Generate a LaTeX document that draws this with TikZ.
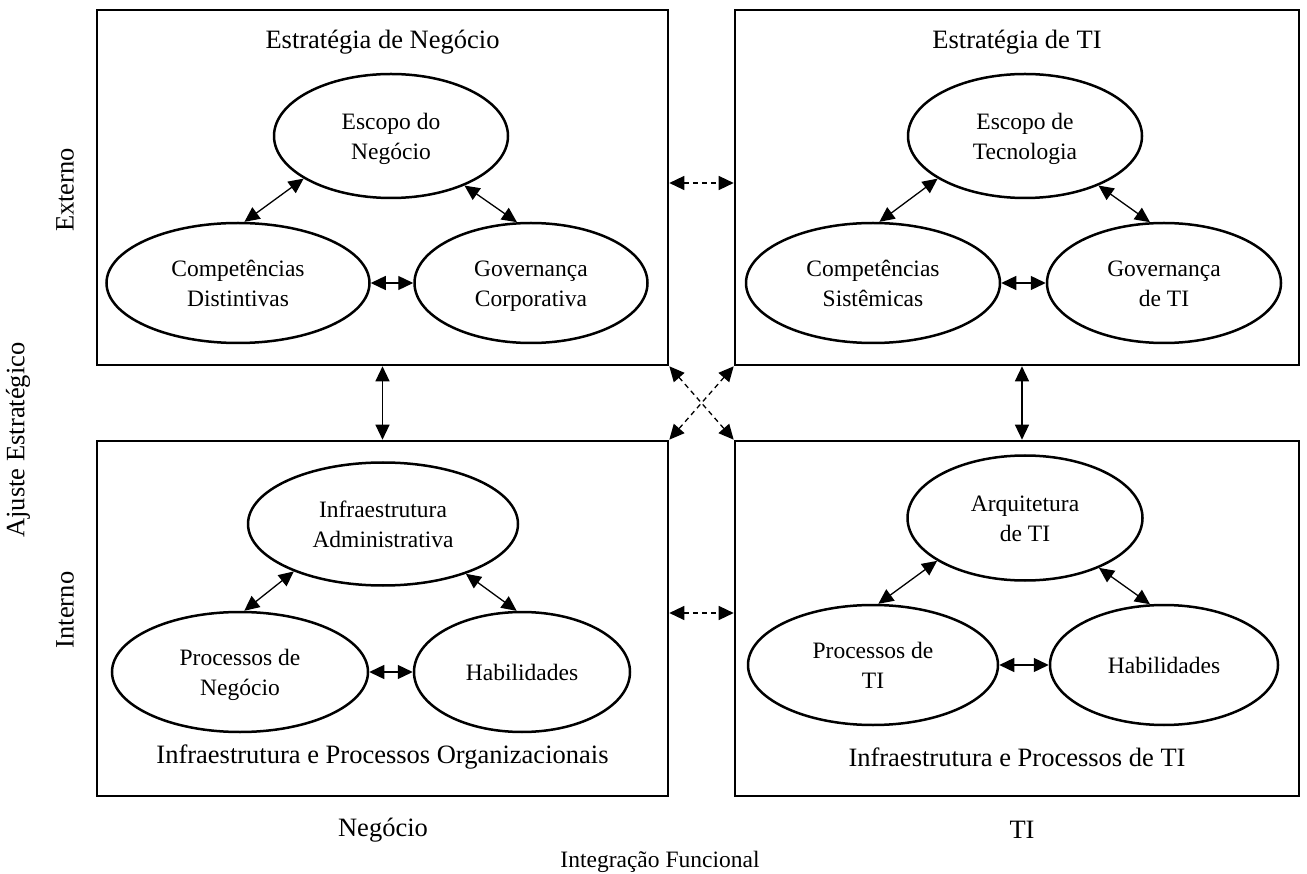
\documentclass[tikz,border=0pt]{standalone}
\usepackage{fontspec}
\setmainfont{Liberation Serif}
\usetikzlibrary{arrows.meta,shapes.geometric}
\begin{document}
\begin{tikzpicture}[x=1pt,y=-1pt,
  font=\fontsize{23.5}{30}\selectfont,
  panel/.style={draw, rectangle, line width=2.6pt, inner sep=0pt},
  oval/.style={draw, ellipse, line width=2.5pt, inner sep=0pt, align=center},
  twoline/.style={oval, text height=47pt, text depth=0pt},
  heading/.style={font=\fontsize{26.5}{32}\selectfont},
  link/.style={line width=1.3pt,
    {Triangle[length=15pt,width=14pt]}-{Triangle[length=15pt,width=14pt]}},
  crosslink/.style={link, dash pattern=on 5pt off 4pt},
]
\useasboundingbox (0,0) rectangle (1307,874);

% four quadrant panels
\node[panel, minimum width=571pt, minimum height=355pt] (TL) at (382.5,187.5) {};
\node[panel, minimum width=564pt, minimum height=355pt] (TR) at (1017,187.5) {};
\node[panel, minimum width=571pt, minimum height=355pt] (BL) at (382.5,618.5) {};
\node[panel, minimum width=564pt, minimum height=355pt] (BR) at (1017,618.5) {};

% panel titles
\node[heading] (tTL) at (382.5,42) {Estratégia de Negócio};
\node[heading] (tTR) at (1017,42) {Estratégia de TI};
\node[heading] (tBL) at (382.5,757) {Infraestrutura e Processos Organizacionais};
\node[heading] (tBR) at (1017,757) {Infraestrutura e Processos de TI};

% business strategy
\node[twoline, minimum width=234pt, minimum height=124pt] (escN) at (391,136) {Escopo do\\Negócio};
\node[twoline, minimum width=263pt, minimum height=120pt] (compD) at (238,283) {Competências\\Distintivas};
\node[twoline, minimum width=233pt, minimum height=120pt] (govC) at (531,283) {Governança\\Corporativa};

% IT strategy
\node[twoline, minimum width=234pt, minimum height=124pt] (escT) at (1025,136) {Escopo de\\Tecnologia};
\node[twoline, minimum width=254pt, minimum height=120pt] (compS) at (873,283) {Competências\\Sistêmicas};
\node[twoline, minimum width=234pt, minimum height=120pt] (govT) at (1164,283) {Governança\\de TI};

% organizational infrastructure
\node[twoline, minimum width=270pt, minimum height=123pt] (infA) at (383,524) {Infraestrutura\\Administrativa};
\node[twoline, minimum width=256pt, minimum height=120pt] (procN) at (240,672) {Processos de\\Negócio};
\node[oval, minimum width=216pt, minimum height=120pt] (habN) at (522,672) {Habilidades};

% IT infrastructure
\node[twoline, minimum width=235pt, minimum height=125pt] (arqT) at (1025,518) {Arquitetura\\de TI};
\node[twoline, minimum width=250pt, minimum height=120pt] (procT) at (873,665) {Processos de\\TI};
\node[oval, minimum width=228pt, minimum height=120pt] (habT) at (1164,665) {Habilidades};

% links inside the panels
\draw[link] (compD.84) -- (escN.206);
\draw[link] (escN.326) -- (govC.103);
\draw[link] (compD.east) -- (govC.west);

\draw[link] (compS.84) -- (escT.206);
\draw[link] (escT.326) -- (govT.103);
\draw[link] (compS.east) -- (govT.west);

\draw[link] (procN.86) -- (infA.208);
\draw[link] (infA.329) -- (habN.95);
\draw[link] (procN.east) -- (habN.west);

\draw[link] (procT.85) -- (arqT.206);
\draw[link] (arqT.326) -- (habT.103);
\draw[link] (procT.east) -- (habT.west);

% links between the panels
\draw[crosslink] ([yshift=4.5pt]TL.east) -- ([yshift=4.5pt]TR.west);
\draw[crosslink] ([yshift=5.5pt]BL.east) -- ([yshift=5.5pt]BR.west);
\draw[link] (TL.south) -- (BL.north);
\draw[link] ([xshift=5pt]TR.south) -- ([xshift=5pt]BR.north);
\draw[crosslink] (TL.south east) -- (BR.north west);
\draw[crosslink] (TR.south west) -- (BL.north east);

% axis labels
\node[heading, rotate=90] (ext) at (65,190) {Externo};
\node[heading, rotate=90] (int) at (65,610) {Interno};
\node[heading, rotate=90] (ajuste) at (18,440) {Ajuste Estratégico};
\node[heading] (neg) at (383,830) {Negócio};
\node[heading] (ti) at (1022,830) {TI};
\node (integ) at (660,862) {Integração Funcional};
\end{tikzpicture}
\end{document}
